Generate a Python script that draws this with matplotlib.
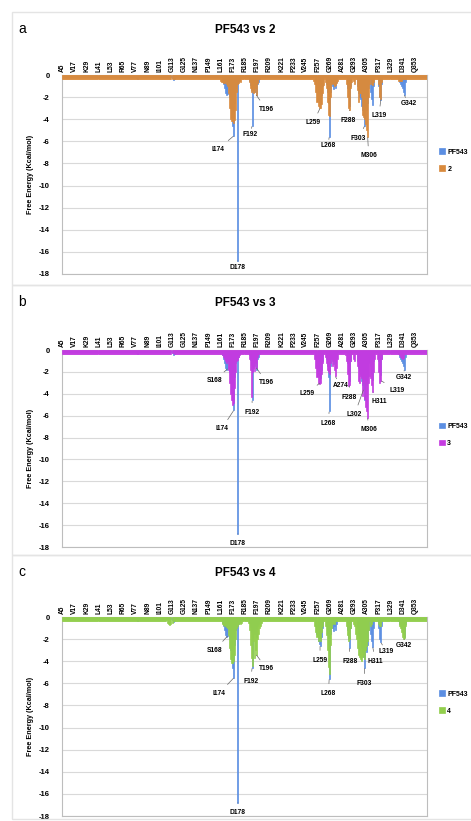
import matplotlib
matplotlib.use('Agg')
import matplotlib.pyplot as plt
import numpy as np
from matplotlib.patches import Rectangle

plt.rcParams['font.family'] = ['Liberation Sans', 'DejaVu Sans']

#### data (kcal/mol per residue)
first_res, last_res = 5, 364
tick_labels = ['A5', 'V17', 'K29', 'L41', 'L53', 'R65', 'V77', 'N89', 'I101', 'G113',
               'G125', 'N137', 'P149', 'L161', 'F173', 'R185', 'F197', 'R209', 'K221',
               'P233', 'V245', 'F257', 'G269', 'A281', 'G293', 'A305', 'P317', 'L329',
               'D341', 'Q353']
tick_res = [5, 17, 29, 41, 53, 65, 77, 89, 101, 113, 125, 137, 149, 161, 173, 185,
            197, 209, 221, 233, 245, 257, 269, 281, 293, 305, 317, 329, 341, 353]

pf543_base = -0.15
pf543 = {78: -0.3, 79: -0.35, 80: -0.2, 113: -0.3, 114: -0.45, 115: -0.35,
         163: -0.5, 164: -0.8, 165: -1.2, 166: -1.6, 167: -1.8, 168: -1.7, 169: -1.0,
         170: -2.0, 171: -3.0, 172: -3.8, 173: -4.6, 174: -5.5, 175: -2.5, 176: -1.2,
         177: -0.8, 178: -16.8, 179: -0.6, 180: -0.4, 181: -0.3,
         189: -0.5, 190: -0.9, 191: -1.4, 192: -4.6, 193: -1.2, 194: -1.5, 195: -1.0,
         196: -1.8, 197: -0.8, 198: -0.6, 199: -0.4,
         255: -0.8, 256: -1.5, 257: -2.2, 258: -2.4, 259: -2.6, 260: -1.8, 261: -1.0,
         265: -0.8, 266: -1.5, 267: -2.5, 268: -5.6, 269: -1.5, 270: -0.7,
         271: -1.0, 272: -1.3, 273: -0.8, 274: -1.2, 275: -0.6,
         286: -1.2, 287: -2.0, 288: -2.8, 289: -1.0,
         296: -1.0, 297: -1.6, 298: -2.0, 299: -2.2, 300: -2.8, 301: -3.2, 302: -3.6,
         303: -4.6, 304: -3.0, 305: -3.2, 306: -2.5, 307: -1.2,
         309: -1.5, 310: -2.2, 311: -2.7, 312: -1.0,
         317: -1.0, 318: -2.0, 319: -2.3, 320: -0.8,
         336: -0.4, 337: -0.6, 338: -0.8, 339: -1.0, 340: -1.2, 341: -1.5, 342: -1.8,
         343: -0.6}

cpd_base = -0.35
cpd2 = {160: -0.4, 161: -0.5, 162: -0.6, 163: -0.6, 164: -0.7, 165: -0.7, 166: -0.6,
        167: -0.8, 168: -1.0, 169: -1.6, 170: -3.0, 171: -4.0, 172: -4.2, 173: -4.2,
        174: -4.3, 175: -4.1, 176: -3.2, 177: -1.5, 178: -0.8, 179: -0.7, 180: -0.5,
        181: -0.6, 182: -0.4,
        189: -0.6, 190: -1.2, 191: -1.5, 192: -1.4, 193: -1.6, 194: -1.5, 195: -1.2,
        196: -1.8, 197: -0.7,
        253: -0.5, 254: -0.8, 255: -1.5, 256: -2.4, 257: -2.8, 258: -3.0, 259: -3.0,
        260: -2.6, 261: -1.6, 262: -0.9,
        264: -0.6, 265: -1.2, 266: -2.4, 267: -3.6, 268: -3.7, 269: -2.0, 270: -0.8,
        271: -0.7, 272: -0.8, 273: -1.0, 274: -0.9, 275: -0.7, 276: -0.5,
        285: -0.8, 286: -2.0, 287: -3.0, 288: -3.2, 289: -1.2, 290: -0.6,
        292: -0.5, 293: -0.8,
        296: -1.4, 297: -2.4, 298: -1.6, 299: -1.6, 300: -2.0, 301: -3.6, 302: -3.8,
        303: -4.0, 304: -4.4, 305: -5.0, 306: -5.6, 307: -2.0, 308: -0.8,
        310: -0.8, 311: -0.9, 312: -0.6,
        317: -0.8, 318: -2.0, 319: -2.2, 320: -0.6,
        336: -0.5, 337: -0.5, 338: -0.5, 339: -0.5}

cpd3 = {113: -0.3, 114: -0.3,
        163: -0.5, 164: -0.6, 165: -0.8, 166: -1.0, 167: -1.2, 168: -1.0, 169: -1.8,
        170: -3.0, 171: -4.0, 172: -4.6, 173: -5.0, 174: -4.8, 175: -3.5, 176: -2.0,
        177: -1.0, 178: -0.9, 179: -0.6, 180: -0.5,
        189: -0.8, 190: -1.8, 191: -4.3, 192: -2.0, 193: -1.6, 194: -1.9, 195: -1.2,
        196: -1.6, 197: -0.6,
        254: -0.8, 255: -1.6, 256: -2.5, 257: -3.0, 258: -3.1, 259: -3.0, 260: -2.2,
        261: -1.2, 264: -0.6, 265: -1.2, 266: -1.8, 267: -2.0, 268: -2.2, 269: -1.2,
        270: -0.8, 271: -1.5, 272: -1.0, 273: -1.8, 274: -2.4, 275: -1.6, 276: -0.8,
        284: -0.5, 285: -1.0, 286: -2.2, 287: -3.3, 288: -3.2, 289: -1.0,
        292: -0.8, 293: -1.0,
        296: -1.5, 297: -2.8, 298: -3.0, 299: -2.4, 300: -2.6, 301: -4.2, 302: -3.0,
        303: -4.5, 304: -5.2, 305: -5.6, 306: -6.2, 307: -3.0, 308: -2.4,
        309: -2.6, 310: -3.2, 311: -3.8, 312: -2.0, 313: -0.8,
        316: -0.8, 317: -2.0, 318: -3.0, 319: -2.8, 320: -0.8,
        337: -0.5, 338: -0.6, 339: -0.7, 340: -0.8, 341: -0.7}

cpd4 = {108: -0.3, 109: -0.5, 110: -0.6, 111: -0.7, 112: -0.6, 113: -0.5, 114: -0.4,
        163: -0.6, 164: -0.7, 165: -0.8, 166: -0.7, 167: -0.9, 168: -1.0, 169: -1.6,
        170: -2.8, 171: -3.8, 172: -4.2, 173: -4.2, 174: -4.0, 175: -3.4, 176: -2.0,
        177: -1.0, 178: -0.8, 179: -0.6, 180: -0.5, 181: -0.6, 182: -0.5, 183: -0.4,
        188: -0.5, 189: -1.2, 190: -2.5, 191: -3.7, 192: -4.4, 193: -2.2, 194: -3.7,
        195: -3.0, 196: -3.4, 197: -2.0, 198: -1.5, 199: -1.0, 200: -0.8, 201: -0.5,
        254: -0.8, 255: -1.4, 256: -1.8, 257: -2.2, 258: -2.0, 259: -2.2, 260: -1.4,
        261: -0.8, 264: -0.8, 265: -1.6, 266: -3.0, 267: -4.5, 268: -5.2, 269: -2.5,
        270: -1.0, 271: -0.6, 272: -0.5, 273: -0.6,
        285: -0.8, 286: -1.6, 287: -2.2, 288: -2.0, 289: -1.0,
        292: -0.6, 293: -0.8, 294: -1.5, 295: -2.0, 296: -2.8, 297: -3.4, 298: -3.6,
        299: -3.8, 300: -4.0, 301: -3.6, 302: -3.4, 303: -3.8, 304: -3.0, 305: -2.6,
        306: -2.2, 307: -1.2, 309: -0.8, 310: -0.6,
        317: -0.6, 318: -0.8, 319: -0.8,
        337: -0.8, 338: -1.0, 339: -1.4, 340: -1.8, 341: -2.0, 342: -1.9, 343: -0.8}

# (label, residue, bar end, text residue, text energy)
notes2 = [('I174', 174, -5.5, 158.5, -6.7), ('D178', 178, -16.8, 177.5, -17.4),
          ('F192', 192, -4.6, 190, -5.4), ('T196', 196, -1.8, 206, -3.1),
          ('L259', 259, -3.0, 252.5, -4.3), ('L268', 268, -5.6, 267, -6.4),
          ('F288', 288, -3.2, 287, -4.1), ('F303', 303, -4.6, 297, -5.7),
          ('M306', 306, -5.6, 307, -7.3), ('L319', 319, -2.2, 317, -3.7),
          ('G342', 342, -1.8, 346.5, -2.6)]
notes3 = [('S168', 168, -1.7, 155, -2.8), ('I174', 174, -5.5, 162, -7.2),
          ('D178', 178, -16.8, 177.5, -17.7), ('F192', 192, -4.6, 192, -5.7),
          ('T196', 196, -1.6, 206.5, -3.0), ('L259', 259, -3.0, 246, -4.0),
          ('L268', 268, -5.6, 267, -6.7), ('A274', 274, -2.4, 279, -3.2),
          ('F288', 288, -3.2, 288, -4.3), ('L302', 302, -3.6, 293, -5.9),
          ('M306', 306, -6.2, 307, -7.3), ('H311', 311, -3.8, 317, -4.7),
          ('L319', 319, -2.8, 335.5, -3.7), ('G342', 342, -1.8, 341.5, -2.5)]
notes4 = [('S168', 168, -1.7, 155, -3.0), ('I174', 174, -5.5, 159.5, -6.9),
          ('D178', 178, -16.8, 177.5, -17.7), ('F192', 192, -4.6, 190.5, -5.8),
          ('T196', 196, -3.4, 206.5, -4.7), ('L259', 259, -2.6, 259, -3.9),
          ('L268', 268, -5.6, 267.3, -6.9), ('F288', 288, -2.8, 288.7, -4.0),
          ('F303', 303, -4.6, 302.6, -6.0), ('H311', 311, -2.7, 313.5, -4.0),
          ('L319', 319, -2.3, 324.3, -3.1), ('G342', 342, -2.0, 342, -2.6)]

panels = [('a', 'PF543 vs 2', '2', cpd2, '#d98a3d', notes2),
          ('b', 'PF543 vs 3', '3', cpd3, '#c43be0', notes3),
          ('c', 'PF543 vs 4', '4', cpd4, '#92cf4c', notes4)]
blue = '#5b8ee2'

W, H = 471, 821
fig = plt.figure(figsize=(W / 100, H / 100), dpi=100)
res = np.arange(first_res, last_res + 1)

# pixel layout of each panel: (frame top, frame bottom, plot top, plot bottom)
layout = [(12, 285, 75, 274), (285, 555, 350, 547), (555, 819, 617, 816)]

for (letter, title, name, cpd, col, notes), (ftop, fbot, ptop, pbot) in zip(panels, layout):
    fig.patches.append(Rectangle((12 / W, 1 - fbot / H), 1, (fbot - ftop) / H,
                                 transform=fig.transFigure, fill=False,
                                 edgecolor='#e4e4e4', lw=1))
    ax = fig.add_axes([62 / W, 1 - pbot / H, 365 / W, (pbot - ptop) / H])
    y_ref = np.array([pf543.get(r, pf543_base) for r in res])
    y_cpd = np.array([cpd.get(r, cpd_base) for r in res])
    ax.bar(res, y_ref, width=1.0, color=blue, edgecolor=blue, linewidth=0.5,
           label='PF543', zorder=2)
    ax.bar(res, y_cpd, width=1.0, color=col, edgecolor=col, linewidth=0.5,
           label=name, zorder=3)

    ax.set_xlim(first_res - 0.5, last_res + 0.5)
    ax.set_ylim(-18, 0)
    ax.set_yticks(np.arange(-18, 1, 2))
    ax.set_yticklabels([str(v) for v in range(-18, 1, 2)], fontsize=5.5, fontweight='bold')
    ax.xaxis.tick_top()
    ax.set_xticks(tick_res)
    ax.set_xticklabels(tick_labels, rotation=90, fontsize=4.8, fontweight='bold')
    ax.tick_params(axis='both', length=0)
    ax.tick_params(axis='x', pad=2)
    ax.tick_params(axis='y', pad=9)
    ax.grid(axis='y', color='#d9d9d9', lw=0.8, zorder=0)
    for s in ax.spines.values():
        s.set_color('#bdbdbd')
        s.set_linewidth(0.8)

    for lab, r, v, tx, ty in notes:
        ax.annotate(lab, xy=(r, v), xytext=(tx, ty), fontsize=4.8, fontweight='bold',
                    ha='center', va='center', zorder=5,
                    arrowprops=dict(arrowstyle='-', color='#666666', lw=0.5,
                                    shrinkA=2.5, shrinkB=0.5))

    mid = 1 - (ptop + pbot) / 2 / H
    fig.text(30 / W, mid, 'Free Energy (Kcal/mol)', rotation=90, fontsize=5.2,
             fontweight='bold', ha='center', va='center')
    fig.text(18 / W, 1 - (ftop + 17) / H, letter, fontsize=10, ha='left', va='center')
    fig.text(245 / W, 1 - (ftop + 18) / H, title, fontsize=8.5, fontweight='bold',
             ha='center', va='center')
    leg = ax.legend(loc='center left', bbox_to_anchor=(1.025, 0.57), frameon=False,
                    fontsize=5.0, handlelength=0.9, handleheight=0.9, handletextpad=0.3,
                    labelspacing=1.4, borderaxespad=0)
    for t in leg.get_texts():
        t.set_fontweight('bold')

fig.savefig('out.png', dpi=100)
